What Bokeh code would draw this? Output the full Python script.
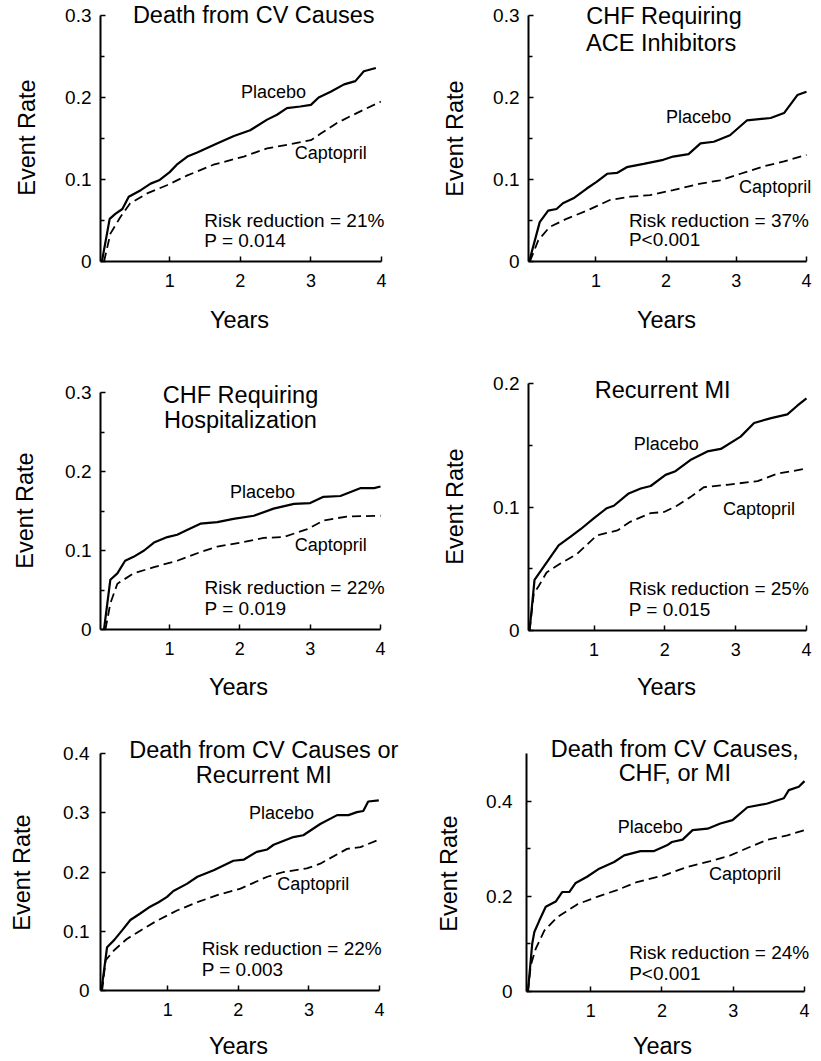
from bokeh.plotting import figure
from bokeh.layouts import column, row
from bokeh.models import Range1d, FixedTicker, CustomJSTickFormatter, Label
from bokeh.embed import file_html
from bokeh.resources import INLINE

FONT = "Liberation Sans"

# ---------------- data (years, event rate) ----------------
p1_plac_x = [0.04, 0.15, 0.23, 0.33, 0.42, 0.59, 0.73, 0.85, 1.0, 1.1, 1.25, 1.39, 1.67, 1.91, 2.14, 2.38, 2.52, 2.66, 2.85, 3.0, 3.11, 3.28, 3.47, 3.63, 3.75, 3.92]
p1_plac_y = [0.0, 0.052, 0.058, 0.064, 0.079, 0.087, 0.095, 0.099, 0.109, 0.118, 0.128, 0.133, 0.144, 0.153, 0.160, 0.173, 0.179, 0.187, 0.189, 0.191, 0.200, 0.207, 0.216, 0.220, 0.232, 0.236]
p1_capt_x = [0.07, 0.16, 0.30, 0.44, 0.68, 0.96, 1.25, 1.62, 2.05, 2.38, 2.71, 3.0, 3.14, 3.37, 3.65, 3.99]
p1_capt_y = [0.0, 0.034, 0.054, 0.071, 0.083, 0.093, 0.105, 0.118, 0.128, 0.138, 0.143, 0.148, 0.156, 0.169, 0.181, 0.195]

p2_plac_x = [0.05, 0.2, 0.32, 0.44, 0.53, 0.68, 0.87, 1.01, 1.16, 1.3, 1.44, 1.68, 1.96, 2.1, 2.32, 2.49, 2.68, 2.91, 3.15, 3.49, 3.68, 3.87, 4.0]
p2_plac_y = [0.0, 0.048, 0.062, 0.064, 0.071, 0.077, 0.089, 0.097, 0.107, 0.108, 0.115, 0.119, 0.124, 0.128, 0.131, 0.144, 0.146, 0.154, 0.172, 0.175, 0.181, 0.203, 0.207]
p2_capt_x = [0.06, 0.18, 0.34, 0.58, 0.87, 1.2, 1.49, 1.77, 2.1, 2.49, 2.77, 3.06, 3.39, 3.68, 4.0]
p2_capt_y = [0.0, 0.026, 0.042, 0.052, 0.062, 0.075, 0.079, 0.081, 0.087, 0.095, 0.099, 0.107, 0.116, 0.122, 0.130]

p3_plac_x = [0.07, 0.16, 0.26, 0.37, 0.49, 0.64, 0.78, 0.97, 1.11, 1.25, 1.44, 1.68, 1.91, 2.2, 2.48, 2.77, 3.0, 3.19, 3.43, 3.72, 3.91, 4.0]
p3_plac_y = [0.0, 0.063, 0.071, 0.087, 0.092, 0.100, 0.110, 0.117, 0.120, 0.126, 0.134, 0.136, 0.140, 0.144, 0.153, 0.159, 0.160, 0.168, 0.169, 0.179, 0.179, 0.181]
p3_capt_x = [0.09, 0.16, 0.26, 0.49, 0.78, 1.11, 1.44, 1.68, 2.01, 2.34, 2.62, 2.96, 3.19, 3.52, 4.0]
p3_capt_y = [0.0, 0.033, 0.058, 0.071, 0.079, 0.087, 0.098, 0.105, 0.110, 0.116, 0.117, 0.127, 0.138, 0.143, 0.144]

p4_plac_x = [0.09, 0.16, 0.33, 0.5, 0.67, 0.81, 1.0, 1.18, 1.28, 1.49, 1.66, 1.8, 2.01, 2.15, 2.36, 2.6, 2.79, 3.07, 3.26, 3.5, 3.73, 3.87, 4.0]
p4_plac_y = [0.0, 0.041, 0.055, 0.069, 0.076, 0.082, 0.091, 0.099, 0.101, 0.111, 0.115, 0.117, 0.126, 0.129, 0.138, 0.145, 0.147, 0.157, 0.168, 0.172, 0.175, 0.182, 0.188]
p4_capt_x = [0.09, 0.15, 0.22, 0.33, 0.52, 0.76, 1.04, 1.33, 1.51, 1.8, 1.99, 2.17, 2.36, 2.55, 2.88, 3.31, 3.59, 3.99]
p4_capt_y = [0.0, 0.030, 0.036, 0.047, 0.054, 0.062, 0.077, 0.081, 0.088, 0.095, 0.096, 0.101, 0.108, 0.116, 0.118, 0.121, 0.127, 0.131]

p5_plac_x = [0.06, 0.14, 0.24, 0.35, 0.47, 0.61, 0.73, 0.87, 0.99, 1.08, 1.27, 1.42, 1.65, 1.93, 2.08, 2.26, 2.41, 2.5, 2.78, 2.92, 3.16, 3.4, 3.56, 3.68, 3.77, 3.84, 3.99]
p5_plac_y = [0.0, 0.073, 0.085, 0.101, 0.119, 0.130, 0.140, 0.149, 0.158, 0.168, 0.180, 0.192, 0.203, 0.219, 0.221, 0.234, 0.238, 0.246, 0.259, 0.262, 0.281, 0.296, 0.296, 0.301, 0.303, 0.319, 0.321]
p5_capt_x = [0.07, 0.12, 0.24, 0.42, 0.61, 0.85, 1.13, 1.42, 1.7, 2.03, 2.41, 2.64, 2.97, 3.16, 3.54, 3.73, 4.0]
p5_capt_y = [0.0, 0.051, 0.068, 0.087, 0.101, 0.118, 0.135, 0.149, 0.161, 0.172, 0.192, 0.200, 0.206, 0.214, 0.239, 0.242, 0.255]

p6_plac_x = [0.12, 0.18, 0.21, 0.28, 0.37, 0.51, 0.6, 0.7, 0.79, 0.95, 1.12, 1.33, 1.47, 1.7, 1.89, 2.07, 2.14, 2.29, 2.43, 2.64, 2.82, 2.99, 3.2, 3.48, 3.71, 3.78, 3.92, 4.0]
p6_plac_y = [0.0, 0.100, 0.125, 0.149, 0.178, 0.189, 0.209, 0.209, 0.228, 0.241, 0.258, 0.272, 0.286, 0.295, 0.295, 0.307, 0.314, 0.319, 0.339, 0.342, 0.353, 0.360, 0.387, 0.395, 0.406, 0.423, 0.430, 0.442]
p6_capt_x = [0.12, 0.16, 0.23, 0.35, 0.53, 0.81, 1.09, 1.37, 1.65, 2.03, 2.36, 2.68, 2.96, 3.24, 3.48, 3.76, 4.0]
p6_capt_y = [0.0, 0.055, 0.090, 0.128, 0.156, 0.183, 0.199, 0.213, 0.230, 0.244, 0.262, 0.274, 0.286, 0.304, 0.319, 0.328, 0.339]

titles = [["Death from CV Causes"],
          ["CHF Requiring", "ACE Inhibitors"],
          ["CHF Requiring", "Hospitalization"],
          ["Recurrent MI"],
          ["Death from CV Causes or", "Recurrent MI"],
          ["Death from CV Causes,", "CHF, or MI"]]
risk_texts = ["Risk reduction = 21%", "Risk reduction = 37%", "Risk reduction = 22%",
              "Risk reduction = 25%", "Risk reduction = 22%", "Risk reduction = 24%"]
p_texts = ["P = 0.014", "P<0.001", "P = 0.019", "P = 0.015", "P = 0.003", "P<0.001"]
y_major = [[0, 0.1, 0.2, 0.3], [0, 0.1, 0.2, 0.3], [0, 0.1, 0.2, 0.3],
           [0, 0.1, 0.2], [0, 0.1, 0.2, 0.3, 0.4], [0, 0.2, 0.4]]
y_minor = [[0.05, 0.15, 0.25], [0.05, 0.15, 0.25], [0.05, 0.15, 0.25],
           [0.05, 0.15], [], [0.1, 0.3]]
y_top = [0.3, 0.3, 0.3, 0.2, 0.4, 0.5]
x_ticks = [1, 2, 3, 4]

series = [(p1_plac_x, p1_plac_y, p1_capt_x, p1_capt_y),
          (p2_plac_x, p2_plac_y, p2_capt_x, p2_capt_y),
          (p3_plac_x, p3_plac_y, p3_capt_x, p3_capt_y),
          (p4_plac_x, p4_plac_y, p4_capt_x, p4_capt_y),
          (p5_plac_x, p5_plac_y, p5_capt_x, p5_capt_y),
          (p6_plac_x, p6_plac_y, p6_capt_x, p6_capt_y)]

# ---------------- layout (page pixel geometry) ----------------
# fig: left, top, width, height ; axis box: left, right(x=4), top(y=top), bottom(y=0)
geom = [
    dict(fl=0,   ft=0,   w=430, h=345, al=100, ar=381, at=15,  ab=261, x0=0.02),
    dict(fl=430, ft=0,   w=389, h=345, al=528, ar=806, at=15,  ab=261, x0=0.04),
    dict(fl=0,   ft=345, w=430, h=365, al=100, ar=380, at=392, ab=629, x0=0.02),
    dict(fl=430, ft=345, w=389, h=365, al=528, ar=806, at=383, ab=630, x0=0.075),
    dict(fl=0,   ft=710, w=430, h=349, al=100, ar=379, at=753, ab=990, x0=0.047),
    dict(fl=430, ft=710, w=389, h=349, al=526, ar=804, at=753, ab=991, x0=0.10),
]
# axis-title positions in page pixels: "Event Rate" (baseline x, centre y), "Years" (centre x, baseline y)
ylab_px = [(35, 137), (463, 138), (33, 510), (463, 506), (30, 872), (457, 873)]
xlab_px = [(239, 328), (666, 328), (238, 695), (666, 695), (238, 1054), (662, 1054)]

# text positions in data units (x, baseline y)
title_pos = [[(2.19, 0.291)],
             [(1.97, 0.289), (1.93, 0.256)],
             [(2.01, 0.287), (2.01, 0.255)],
             [(1.97, 0.188)],
             [(2.36, 0.392), (2.36, 0.349)],
             [(2.18, 0.493), (2.18, 0.441)]]
plac_pos = [(2.01, 0.199), (2.0, 0.168), (1.86, 0.166), (1.56, 0.146), (2.15, 0.289), (1.38, 0.332)]
capt_pos = [(2.77, 0.1245), (3.04, 0.0837), (2.78, 0.099), (2.82, 0.093), (2.55, 0.169), (2.66, 0.234)]
risk_pos = [(1.49, 0.042, 0.0176), (1.47, 0.042, 0.0184), (1.5, 0.0445, 0.018),
            (1.49, 0.029, 0.012), (1.48, 0.059, 0.0237), (1.54, 0.069, 0.0246)]
ylab_standoff = [9, 9, 9, 9, 11, 14]

# the renderer anchors "alphabetic" text about this fraction of the font size too low
BASE_FIX = 0.35
TITLE_FS, AXIS_FS, SERIES_FS, RISK_FS = 23.5, 23.5, 18, 19
XTICK_FS, YTICK_FS = 18, 19

figs = []
for i in range(6):
    g = geom[i]
    ppx = (g["ar"] - g["al"]) / (4 - g["x0"])
    ppy = (g["ab"] - g["at"]) / y_top[i]

    def dx(X, g=g, ppx=ppx):
        return g["x0"] + (X - g["al"]) / ppx

    def dy(Y, g=g, ppy=ppy):
        return (g["ab"] - Y) / ppy

    def lab(x, y, text, fs, align="left", ppy=ppy):
        return Label(x=x, y=y + BASE_FIX * fs / ppy, text=text, text_font=FONT,
                     text_font_size=f"{fs}px", text_color="black",
                     text_baseline="alphabetic", text_align=align)

    p = figure(width=g["w"], height=g["h"], output_backend="svg", toolbar_location=None,
               x_range=Range1d(dx(g["fl"]), dx(g["fl"] + g["w"])),
               y_range=Range1d(dy(g["ft"] + g["h"]), dy(g["ft"])),
               min_border=0)
    p.outline_line_color = None
    p.xgrid.visible = False
    p.ygrid.visible = False
    p.background_fill_color = "white"
    p.border_fill_color = "white"

    px, py, cx, cy = series[i]
    p.line(cx, cy, line_color="black", line_width=1.8, line_dash="9 5")
    p.line(px, py, line_color="black", line_width=2.2)

    for ax in (p.xaxis[0], p.yaxis[0]):
        ax.axis_line_width = 2
        ax.axis_line_color = "black"
        ax.major_tick_line_color = "black"
        ax.major_tick_line_width = 1.5
        ax.minor_tick_line_color = "black"
        ax.minor_tick_line_width = 1.5
        ax.major_tick_in = 5
        ax.major_tick_out = 0
        ax.minor_tick_in = 4
        ax.minor_tick_out = 0
        ax.major_label_text_font = FONT
        ax.major_label_text_color = "black"

    p.xaxis.fixed_location = 0
    p.xaxis.bounds = (g["x0"], 4)
    p.xaxis.ticker = FixedTicker(ticks=x_ticks, minor_ticks=[])
    p.xaxis.formatter = CustomJSTickFormatter(code="return tick.toFixed(0);")
    p.xaxis.major_label_standoff = 12
    p.xaxis.major_label_text_font_size = f"{XTICK_FS}px"

    p.yaxis.fixed_location = g["x0"]
    p.yaxis.bounds = (0, y_top[i])
    p.yaxis.ticker = FixedTicker(ticks=y_major[i], minor_ticks=y_minor[i])
    p.yaxis.formatter = CustomJSTickFormatter(code="return tick == 0 ? '0' : tick.toFixed(1);")
    p.yaxis.major_label_standoff = ylab_standoff[i]
    p.yaxis.major_label_text_font_size = f"{YTICK_FS}px"

    # axis titles
    yl = ylab_px[i]
    p.add_layout(Label(x=dx(yl[0] - BASE_FIX * AXIS_FS), y=dy(yl[1]), text="Event Rate",
                       angle=90, angle_units="deg", text_align="center",
                       text_baseline="alphabetic", text_font=FONT,
                       text_font_size=f"{AXIS_FS}px", text_color="black"))
    xl = xlab_px[i]
    p.add_layout(lab(dx(xl[0]), dy(xl[1]), "Years", AXIS_FS, "center"))

    for line, (tx, ty) in zip(titles[i], title_pos[i]):
        p.add_layout(lab(tx, ty, line, TITLE_FS, "center"))
    p.add_layout(lab(plac_pos[i][0], plac_pos[i][1], "Placebo", SERIES_FS))
    p.add_layout(lab(capt_pos[i][0], capt_pos[i][1], "Captopril", SERIES_FS))
    rx, ry1, ry2 = risk_pos[i]
    p.add_layout(lab(rx, ry1, risk_texts[i], RISK_FS))
    p.add_layout(lab(rx, ry2, p_texts[i], RISK_FS))
    figs.append(p)

layout = column(row(figs[0], figs[1]), row(figs[2], figs[3]), row(figs[4], figs[5]))
open("out.html", "w").write(file_html(layout, INLINE))
